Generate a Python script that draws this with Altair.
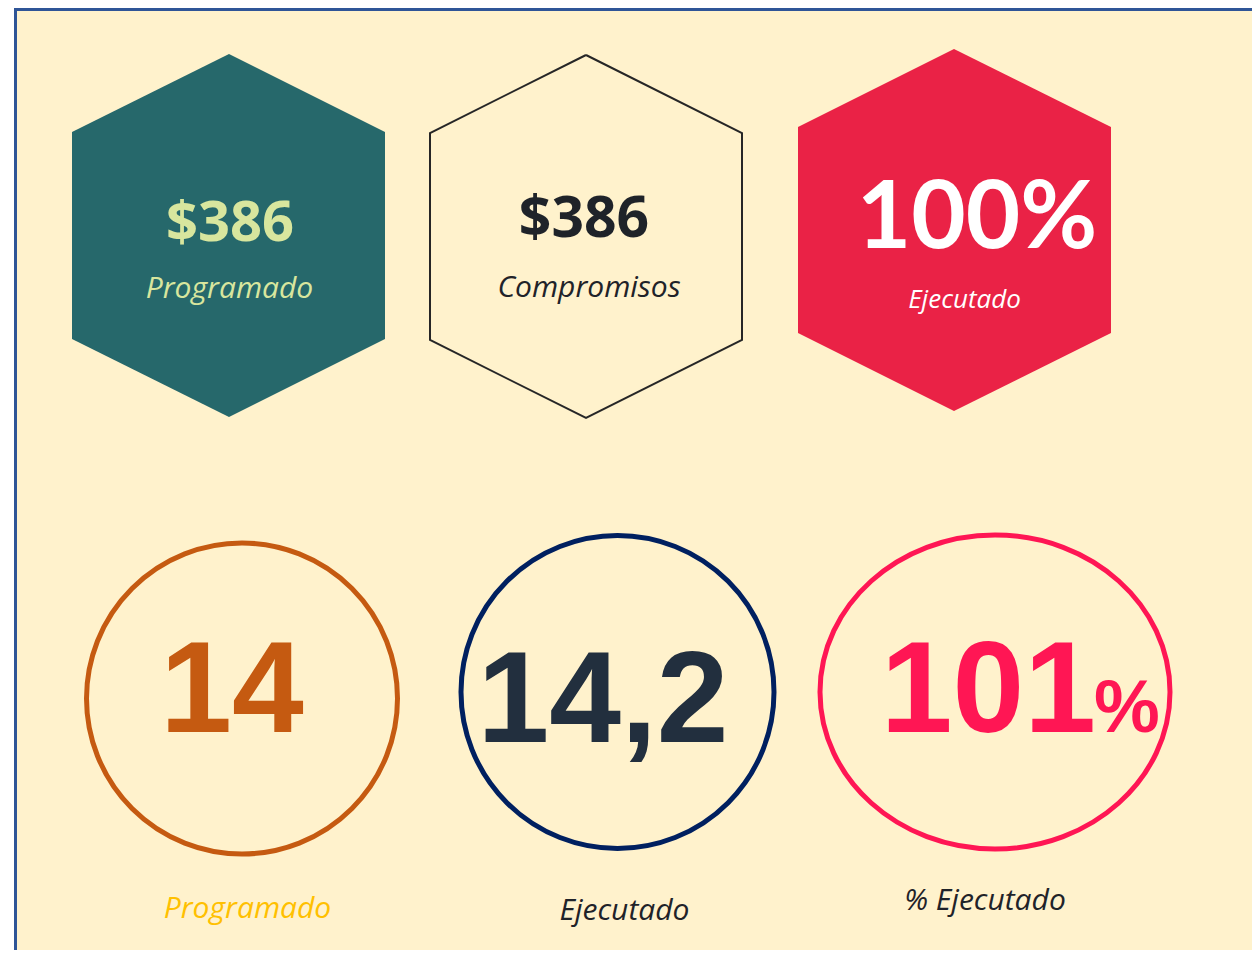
import altair as alt
import pandas as pd

# ---------------- data ----------------
# page frame
frame_x, frame_x2 = [15.5], [1400]
frame_y, frame_y2 = [9.5], [1100]

# hexagons (pointy top)
hex_names = ["Programado", "Compromisos", "Ejecutado"]
hex_cx = [229, 586, 954]
hex_left = [72, 430, 798]
hex_right = [385, 742, 1111]
hex_top = [54, 55, 49]
hex_sh_top = [132, 133, 127]
hex_sh_bot = [339, 340, 333]
hex_bottom = [417, 418, 411]
hex_fill = ["#26686B", "none", "#EA2246"]

# circles / ellipse
circ_names = ["Programado", "Ejecutado", "% Ejecutado"]
circ_cx = [242, 617.5, 995]
circ_cy = [698.5, 692, 692]
circ_w = [311, 313, 350]
circ_h = [311, 314, 314]
circ_color = ["#C55A11", "#002060", "#FF1654"]

# texts
hexval_text = ["$386", "$386"]
hexval_x = [230, 584]
hexval_y = [241, 237]
hexval_size = [56, 57]
hexval_color = ["#D8E69E", "#1F2329"]

pct_text = ["100%"]
pct_x = [977]
pct_y = [248]

lab_text = ["Programado", "Compromisos", "Programado", "Ejecutado", "% Ejecutado"]
lab_x = [229.5, 589, 247.5, 624.5, 985]
lab_y = [298, 297, 918, 920, 910]
lab_color = ["#D8E69E", "#1F2329", "#FFC000", "#1F2329", "#1F2329"]

small_lab_text = ["Ejecutado"]
small_lab_x = [964.5]
small_lab_y = [308]

big_text = ["14", "14,2", "101"]
big_x = [232, 603, 1096]
big_y = [732, 742, 732]
big_align = ["center", "center", "right"]
big_color = ["#C55A11", "#222F3E", "#FF1654"]

pct2_text = ["%"]
pct2_x = [1094]
pct2_y = [732]

# ---------------- scales ----------------
W, H = 1244, 942
xs = alt.Scale(domain=[8, 8 + W], range=[0, W], nice=False, zero=False)
ys = alt.Scale(domain=[8, 8 + H], range=[0, H], nice=False, zero=False)
X = lambda f: alt.X(f, type="quantitative", scale=xs, axis=None)
Y = lambda f: alt.Y(f, type="quantitative", scale=ys, axis=None)

# ---------------- frames ----------------
frame_df = pd.DataFrame({"x": frame_x, "x2": frame_x2, "y": frame_y, "y2": frame_y2})
frame = alt.Chart(frame_df).mark_rect(
    fill="#FFF2CC", stroke="#2F5597", strokeWidth=3, clip=True
).encode(x=X("x"), x2="x2", y=Y("y"), y2="y2")

# filled hexagons as areas
area_rows = []
line_rows = []
for i in range(3):
    if hex_fill[i] != "none":
        area_rows += [
            {"id": i, "x": hex_left[i], "y": hex_sh_top[i], "y2": hex_sh_bot[i], "fill": hex_fill[i]},
            {"id": i, "x": hex_cx[i], "y": hex_top[i], "y2": hex_bottom[i], "fill": hex_fill[i]},
            {"id": i, "x": hex_right[i], "y": hex_sh_top[i], "y2": hex_sh_bot[i], "fill": hex_fill[i]},
        ]
    else:
        pts = [(hex_cx[i], hex_top[i]), (hex_right[i], hex_sh_top[i]), (hex_right[i], hex_sh_bot[i]),
               (hex_cx[i], hex_bottom[i]), (hex_left[i], hex_sh_bot[i]), (hex_left[i], hex_sh_top[i]),
               (hex_cx[i], hex_top[i])]
        for k, (px, py) in enumerate(pts):
            line_rows.append({"id": i, "o": k, "x": px, "y": py})

hex_area = alt.Chart(pd.DataFrame(area_rows)).mark_area(opacity=1).encode(
    x=X("x"), y=Y("y"), y2="y2", detail="id:N",
    fill=alt.Fill("fill:N", scale=None),
)
hex_line = alt.Chart(pd.DataFrame(line_rows)).mark_line(
    color="#262626", strokeWidth=2, strokeJoin="miter"
).encode(x=X("x"), y=Y("y"), order="o:Q", detail="id:N")

# circles
circ_df = pd.DataFrame({"name": circ_names, "x": circ_cx, "y": circ_cy,
                        "size": [w * w for w in circ_w], "color": circ_color})
circles = alt.Chart(circ_df.iloc[:2]).mark_point(
    shape="circle", filled=False, strokeWidth=5, opacity=1
).encode(x=X("x"), y=Y("y"), size=alt.Size("size:Q", scale=None),
         stroke=alt.Stroke("color:N", scale=None))
r = circ_h[2] / circ_w[2]
ell_path = f"M-1,0A1,{r:.4f} 0 1,1 1,0A1,{r:.4f} 0 1,1 -1,0Z"
ellipse = alt.Chart(circ_df.iloc[2:]).mark_point(
    shape=ell_path, filled=False, strokeWidth=5, opacity=1
).encode(x=X("x"), y=Y("y"), size=alt.Size("size:Q", scale=None),
         stroke=alt.Stroke("color:N", scale=None))

# texts
t1 = alt.Chart(pd.DataFrame({"t": hexval_text, "x": hexval_x, "y": hexval_y,
                             "s": hexval_size, "c": hexval_color})).mark_text(
    font="Open Sans", fontWeight="bold", baseline="alphabetic", align="center"
).encode(x=X("x"), y=Y("y"), text="t:N", size=alt.Size("s:Q", scale=None),
         color=alt.Color("c:N", scale=None))

t2 = alt.Chart(pd.DataFrame({"t": pct_text, "x": pct_x, "y": pct_y})).mark_text(
    font="Lato", fontWeight="bold", fontSize=94, color="#FFFFFF",
    baseline="alphabetic", align="center"
).encode(x=X("x"), y=Y("y"), text="t:N")

t3 = alt.Chart(pd.DataFrame({"t": lab_text, "x": lab_x, "y": lab_y, "c": lab_color})).mark_text(
    font="Open Sans", fontStyle="italic", fontSize=30, baseline="alphabetic", align="center"
).encode(x=X("x"), y=Y("y"), text="t:N", color=alt.Color("c:N", scale=None))

t4 = alt.Chart(pd.DataFrame({"t": small_lab_text, "x": small_lab_x, "y": small_lab_y})).mark_text(
    font="Open Sans", fontStyle="italic", fontSize=26, color="#FFFFFF",
    baseline="alphabetic", align="center"
).encode(x=X("x"), y=Y("y"), text="t:N")

big_df = pd.DataFrame({"t": big_text, "x": big_x, "y": big_y, "a": big_align, "c": big_color})
t5 = alt.Chart(big_df.iloc[:2]).mark_text(
    font="Liberation Sans", fontWeight="bold", fontSize=129, baseline="alphabetic", align="center"
).encode(x=X("x"), y=Y("y"), text="t:N", color=alt.Color("c:N", scale=None))
t6 = alt.Chart(big_df.iloc[2:]).mark_text(
    font="Liberation Sans", fontWeight="bold", fontSize=129, baseline="alphabetic", align="right"
).encode(x=X("x"), y=Y("y"), text="t:N", color=alt.Color("c:N", scale=None))
t7 = alt.Chart(pd.DataFrame({"t": pct2_text, "x": pct2_x, "y": pct2_y})).mark_text(
    font="Liberation Sans", fontWeight="bold", fontSize=74, color="#FF1654",
    baseline="alphabetic", align="left"
).encode(x=X("x"), y=Y("y"), text="t:N")

chart = alt.layer(frame, hex_area, hex_line, circles, ellipse, t1, t2, t3, t4, t5, t6, t7).properties(
    width=W, height=H, padding=0, autosize=alt.AutoSizeParams(type="none"), background="#FFFFFF"
).configure_view(stroke=None)

chart.save("out.html", embed_options={"renderer": "svg", "actions": False})
